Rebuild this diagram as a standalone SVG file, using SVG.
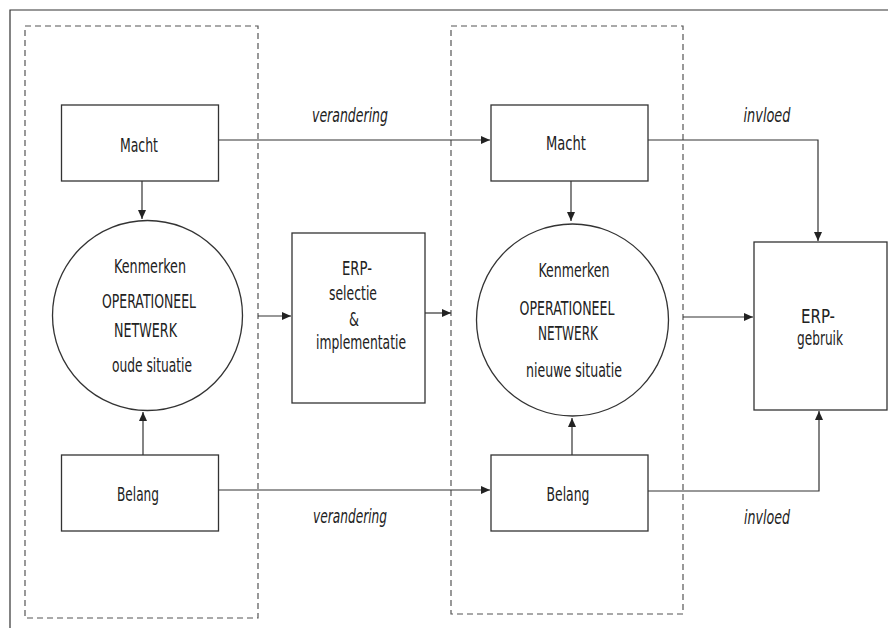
<svg xmlns="http://www.w3.org/2000/svg" width="888" height="628" viewBox="0 0 888 628">
<style>
.frame{fill:none;stroke:#333;stroke-width:1.2}
.dash{fill:none;stroke:#555;stroke-width:1.2;stroke-dasharray:6,4}
.box{fill:#fff;stroke:#333;stroke-width:1.3}
.con{fill:none;stroke:#333;stroke-width:1.2}
text{font-family:"DejaVu Sans","Liberation Sans",sans-serif;font-size:20px;fill:#222;text-anchor:middle}
.it{font-style:italic}
</style>
<defs>
<marker id="ah" markerWidth="10" markerHeight="8" refX="9" refY="4" orient="auto" markerUnits="userSpaceOnUse">
<path d="M0,0 L9,4 L0,8 Z" fill="#222"/>
</marker>
</defs>
<rect width="888" height="628" fill="#fff"/>
<path class="frame" d="M10,628 V10 H888"/>
<rect class="dash" x="25" y="26" width="233" height="592"/>
<rect class="dash" x="451" y="26" width="232" height="588"/>

<g id="connectors">
<path class="con" d="M218.5,140 H490" marker-end="url(#ah)"/>
<path class="con" d="M142,181 V219" marker-end="url(#ah)"/>
<path class="con" d="M143,455 V412" marker-end="url(#ah)"/>
<path class="con" d="M258,316 H291" marker-end="url(#ah)"/>
<path class="con" d="M425,313 H451" marker-end="url(#ah)"/>
<path class="con" d="M571,181 V221" marker-end="url(#ah)"/>
<path class="con" d="M572,455 V418" marker-end="url(#ah)"/>
<path class="con" d="M648,140 H818 V241" marker-end="url(#ah)"/>
<path class="con" d="M683,317 H753" marker-end="url(#ah)"/>
<path class="con" d="M218.5,490 H490" marker-end="url(#ah)"/>
<path class="con" d="M648,491 H819 V411" marker-end="url(#ah)"/>
<text class="it" x="350" y="122" textLength="76" lengthAdjust="spacingAndGlyphs">verandering</text>
<text class="it" x="350" y="523" textLength="74" lengthAdjust="spacingAndGlyphs">verandering</text>
<text class="it" x="767" y="122" textLength="47" lengthAdjust="spacingAndGlyphs">invloed</text>
<text class="it" x="767" y="524" textLength="46" lengthAdjust="spacingAndGlyphs">invloed</text>
</g>

<g id="macht-oud">
<rect class="box" x="61.5" y="105" width="157" height="76"/>
<text x="139" y="152" textLength="38" lengthAdjust="spacingAndGlyphs">Macht</text>
</g>
<g id="netwerk-oud">
<circle class="box" cx="147.5" cy="315.5" r="95"/>
<text x="150" y="273" textLength="72" lengthAdjust="spacingAndGlyphs">Kenmerken</text>
<text x="149" y="308" textLength="94" lengthAdjust="spacingAndGlyphs">OPERATIONEEL</text>
<text x="145.5" y="337" textLength="63" lengthAdjust="spacingAndGlyphs">NETWERK</text>
<text x="152" y="372" textLength="80" lengthAdjust="spacingAndGlyphs">oude situatie</text>
</g>
<g id="belang-oud">
<rect class="box" x="61.5" y="455" width="157" height="76"/>
<text x="138" y="501" textLength="42" lengthAdjust="spacingAndGlyphs">Belang</text>
</g>
<g id="erp-selectie">
<rect class="box" x="292" y="233" width="133" height="170"/>
<text x="357" y="275" textLength="30" lengthAdjust="spacingAndGlyphs">ERP-</text>
<text x="353" y="300" textLength="48" lengthAdjust="spacingAndGlyphs">selectie</text>
<text x="354" y="326" textLength="10" lengthAdjust="spacingAndGlyphs">&amp;</text>
<text x="361" y="349" textLength="90" lengthAdjust="spacingAndGlyphs">implementatie</text>
</g>
<g id="macht-nieuw">
<rect class="box" x="491" y="105" width="157" height="76"/>
<text x="566" y="150" textLength="40" lengthAdjust="spacingAndGlyphs">Macht</text>
</g>
<g id="netwerk-nieuw">
<circle class="box" cx="572.5" cy="320" r="96"/>
<text x="574" y="277" textLength="71" lengthAdjust="spacingAndGlyphs">Kenmerken</text>
<text x="567" y="315" textLength="95" lengthAdjust="spacingAndGlyphs">OPERATIONEEL</text>
<text x="568" y="340" textLength="60" lengthAdjust="spacingAndGlyphs">NETWERK</text>
<text x="574" y="377" textLength="96" lengthAdjust="spacingAndGlyphs">nieuwe situatie</text>
</g>
<g id="belang-nieuw">
<rect class="box" x="491" y="455" width="157" height="76"/>
<text x="568" y="501" textLength="43" lengthAdjust="spacingAndGlyphs">Belang</text>
</g>
<g id="erp-gebruik">
<rect class="box" x="754" y="242" width="133" height="168"/>
<text x="818" y="323" textLength="34" lengthAdjust="spacingAndGlyphs">ERP-</text>
<text x="820" y="345" textLength="46" lengthAdjust="spacingAndGlyphs">gebruik</text>
</g>
</svg>
